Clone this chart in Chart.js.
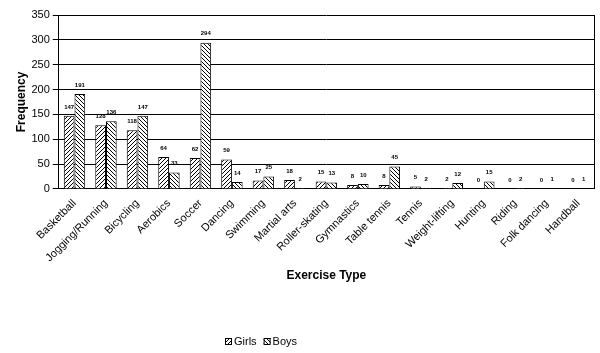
<!DOCTYPE html>
<html>
<head>
<meta charset="utf-8">
<script src="https://cdn.jsdelivr.net/npm/chart.js"></script>
<style>
  html, body { margin: 0; padding: 0; background: #fff; }
  #wrap { width: 600px; height: 353px; position: relative; }
</style>
</head>
<body>
<div id="wrap"><canvas id="chart"></canvas></div>
<script>
const categories = ['Basketball', 'Jogging/Running', 'Bicycling', 'Aerobics', 'Soccer', 'Dancing',
  'Swimming', 'Martial arts', 'Roller-skating', 'Gymnastics', 'Table tennis', 'Tennis',
  'Weight-lifting', 'Hunting', 'Riding', 'Folk dancing', 'Handball'];
const girls = [147, 128, 118, 64, 62, 59, 17, 18, 15, 8, 8, 5, 2, 0, 0, 0, 0];
const boys = [191, 136, 147, 33, 294, 14, 25, 2, 13, 10, 45, 2, 12, 15, 2, 1, 1];
const yTicks = [0, 50, 100, 150, 200, 250, 300, 350];

function makeHatch(forward) {
  const c = document.createElement('canvas');
  c.width = 4; c.height = 4;
  const g = c.getContext('2d');
  g.fillStyle = '#fff';
  g.fillRect(0, 0, 4, 4);
  g.strokeStyle = '#000';
  g.lineWidth = 1;
  g.beginPath();
  if (forward) {
    g.moveTo(-1, 5); g.lineTo(5, -1);
    g.moveTo(-1, 1); g.lineTo(1, -1);
    g.moveTo(3, 5); g.lineTo(5, 3);
  } else {
    g.moveTo(-1, -1); g.lineTo(5, 5);
    g.moveTo(3, -1); g.lineTo(5, 1);
    g.moveTo(-1, 3); g.lineTo(1, 5);
  }
  g.stroke();
  return g.createPattern(c, 'repeat');
}

const ctx = document.getElementById('chart').getContext('2d');
const girlsFill = makeHatch(true);
const boysFill = makeHatch(false);

const valueLabels = {
  id: 'valueLabels',
  afterDatasetsDraw(chart) {
    const c = chart.ctx;
    c.save();
    c.font = 'bold 6px Arial, "Liberation Sans", sans-serif';
    c.fillStyle = '#000';
    c.textAlign = 'center';
    c.textBaseline = 'bottom';
    chart.data.datasets.forEach((ds, i) => {
      chart.getDatasetMeta(i).data.forEach((el, j) => {
        c.fillText(String(ds.data[j]), el.x, el.y - 6);
      });
    });
    c.restore();
  }
};

const frameAndLegend = {
  id: 'frameAndLegend',
  afterDraw(chart) {
    const c = chart.ctx;
    const a = chart.chartArea;
    c.save();
    c.strokeStyle = '#000';
    c.lineWidth = 1;
    c.beginPath();
    c.moveTo(Math.round(a.right) + 0.5, a.top);
    c.lineTo(Math.round(a.right) + 0.5, a.bottom);
    c.stroke();

    // legend
    c.font = '11px Arial, "Liberation Sans", sans-serif';
    c.textBaseline = 'middle';
    c.fillStyle = '#000';
    const items = [['Girls', girlsFill], ['Boys', boysFill]];
    let x = 225;
    const y = 342;
    items.forEach(([label, fill]) => {
      c.fillStyle = fill;
      c.fillRect(x, y - 4, 7, 7);
      c.strokeRect(x + 0.5, y - 3.5, 6, 6);
      c.fillStyle = '#000';
      c.fillText(label, x + 9, y);
      x += 9 + c.measureText(label).width + 7;
    });
    c.restore();
  }
};

new Chart(ctx, {
  type: 'bar',
  data: {
    labels: categories,
    datasets: [
      { label: 'Girls', data: girls, backgroundColor: girlsFill, borderColor: '#000', borderWidth: 1, borderSkipped: 'bottom' },
      { label: 'Boys', data: boys, backgroundColor: boysFill, borderColor: '#000', borderWidth: 1, borderSkipped: 'bottom' }
    ]
  },
  options: {
    responsive: true,
    maintainAspectRatio: false,
    animation: false,
    layout: { padding: { left: 14, right: 6, top: 15, bottom: 66 } },
    categoryPercentage: 0.68,
    barPercentage: 1.0,
    plugins: {
      legend: { display: false },
      tooltip: { enabled: false }
    },
    scales: {
      x: {
        grid: { display: false },
        border: { color: '#000' },
        ticks: {
          color: '#000',
          font: { family: 'Arial, "Liberation Sans", sans-serif', size: 11 },
          minRotation: 45,
          maxRotation: 45,
          autoSkip: false,
          padding: 0
        },
        title: {
          display: true,
          text: 'Exercise Type',
          color: '#000',
          font: { family: 'Arial, "Liberation Sans", sans-serif', size: 12, weight: 'bold' },
          padding: { top: 4 }
        }
      },
      y: {
        min: 0,
        max: 350,
        afterBuildTicks(axis) { axis.ticks = yTicks.map(v => ({ value: v })); },
        grid: { color: '#000', tickLength: 6, drawTicks: true },
        border: { color: '#000' },
        ticks: {
          color: '#000',
          font: { family: 'Arial, "Liberation Sans", sans-serif', size: 11 },
          padding: 3
        },
        title: {
          display: true,
          text: 'Frequency',
          color: '#000',
          font: { family: 'Arial, "Liberation Sans", sans-serif', size: 12, weight: 'bold' },
          padding: { top: 0, bottom: 0 }
        }
      }
    }
  },
  plugins: [valueLabels, frameAndLegend]
});
</script>
</body>
</html>
